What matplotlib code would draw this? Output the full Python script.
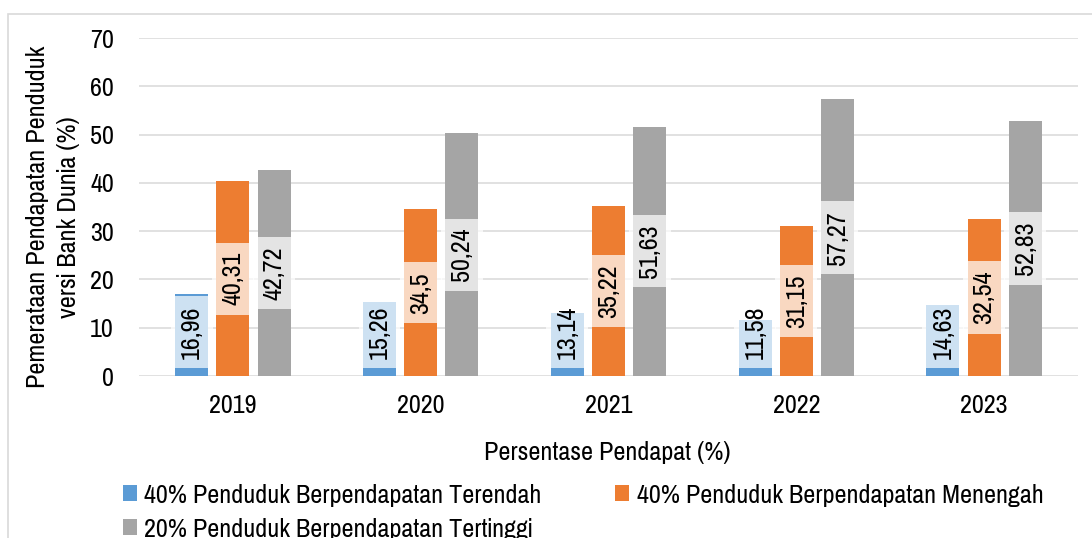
import matplotlib
matplotlib.use("Agg")
import matplotlib.pyplot as plt
from matplotlib import font_manager as fm
from matplotlib.patches import Rectangle, Patch
import numpy as np

years = ["2019", "2020", "2021", "2022", "2023"]
low40 = [16.96, 15.26, 13.14, 11.58, 14.63]
mid40 = [40.31, 34.5, 35.22, 31.15, 32.54]
top20 = [42.72, 50.24, 51.63, 57.27, 52.83]
series_names = ["40% Penduduk Berpendapatan Terendah",
                "40% Penduduk Berpendapatan Menengah",
                "20% Penduduk Berpendapatan Tertinggi"]
colors = ["#5B9BD5", "#ED7D31", "#A5A5A5"]
y_title = "Pemerataan Pendapatan Penduduk\nversi Bank Dunia (%)"
x_title = "Persentase Pendapat (%)"

names = {f.name for f in fm.fontManager.ttflist}
fam = "DejaVu Sans"
for cand in ["Liberation Sans Narrow", "Pragati Narrow", "PT Sans Narrow",
             "Roboto Condensed", "Archivo Narrow", "Barlow Semi Condensed"]:
    if cand in names:
        fam = cand
        break
plt.rcParams["font.family"] = [fam, "DejaVu Sans"]
FS = 20.5

W, H = 1092, 538
fig = plt.figure(figsize=(W / 100, H / 100), dpi=100)

def fx(px):
    return px / W

def fy(py):
    return 1 - py / H

# outer chart frame
fig.patches.append(Rectangle((fx(8), fy(H + 10)), 1.2, (H + 10 - 14) / H,
                             transform=fig.transFigure, fill=False,
                             edgecolor="#D9D9D9", lw=1.2))

L, R, T, B = 139, 1078, 38, 376
ax = fig.add_axes([fx(L), fy(B), (R - L) / W, (B - T) / H])

x = np.arange(len(years))
width = 0.176
offs = [-0.219, 0.0, 0.219]
data = [low40, mid40, top20]
for i, (vals, c) in enumerate(zip(data, colors)):
    ax.bar(x + offs[i], vals, width, color=c, zorder=2, label=series_names[i])
    for xi, v in zip(x + offs[i], vals):
        lab = f"{v:g}".replace(".", ",")
        box = dict(boxstyle="square,pad=0.33", fc="white", ec="none", alpha=0.7)
        if i == 0:
            ax.annotate(lab, (xi, 0), xytext=(0, 12.5), textcoords="offset points",
                        rotation=90, ha="center", va="bottom", fontsize=FS,
                        bbox=box, zorder=3)
        else:
            ax.text(xi, v / 2, lab, rotation=90, ha="center", va="center",
                    fontsize=FS, bbox=box, zorder=3)

ax.set_xlim(-0.5, 4.5)
ax.set_ylim(0, 70)
ax.set_yticks(range(0, 71, 10))
ax.set_xticks(x)
ax.set_xticklabels(years)
ax.tick_params(axis="both", length=0, labelsize=FS, colors="#000000")
ax.tick_params(axis="y", pad=18)
ax.tick_params(axis="x", pad=13)
for s in ax.spines.values():
    s.set_visible(False)
ax.yaxis.grid(True, color="#D9D9D9", lw=1.1, zorder=0)
ax.set_axisbelow(True)

fig.text(fx(53), fy(217), y_title, rotation=90, ha="center", va="center",
         fontsize=FS, multialignment="center", linespacing=1.45)
fig.text(fx(607), fy(452), x_title, ha="center", va="center", fontsize=FS)

# legend: first column (lowest, highest) and second column (middle)
leg_kw = dict(loc="upper left", bbox_transform=fig.transFigure, frameon=False,
              fontsize=FS, borderpad=0, borderaxespad=0, handlelength=0.49,
              handleheight=0.49, handletextpad=0.27, labelspacing=0.4)
col1 = [0, 2]
fig.legend([Patch(facecolor=colors[k], edgecolor="none") for k in col1],
           [series_names[k] for k in col1], bbox_to_anchor=(fx(122.7), fy(484)),
           **leg_kw)
fig.legend([Patch(facecolor=colors[1], edgecolor="none")], [series_names[1]],
           bbox_to_anchor=(fx(615), fy(484)), **leg_kw)

fig.savefig("out.png", dpi=100)
